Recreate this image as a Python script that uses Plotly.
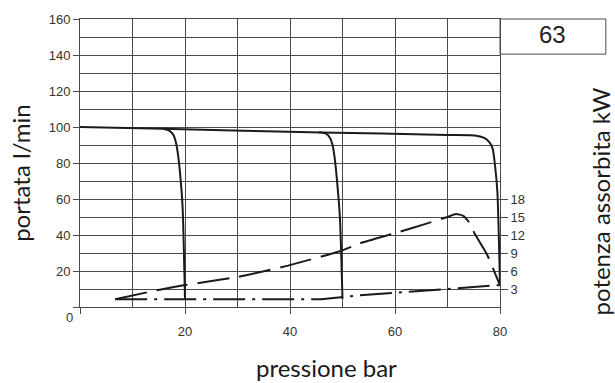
import plotly.graph_objects as go

# Flow rate (l/min) vs pressure (bar): main curve with relief knee at 80 bar
flow_p = [0, 15.8, 46, 70, 75.5, 77.0, 78.0, 78.6, 79.0, 79.5, 80.0]
flow_q = [100, 99.0, 97.0, 95.6, 95.2, 94.0, 91.5, 88.0, 80.0, 64.0, 12.0]

# Relief knee branching off at 20 bar
knee20_p = [15.8, 17.0, 17.8, 18.3, 18.7, 19.1, 19.55, 20.0]
knee20_q = [99.0, 98.0, 95.5, 91.0, 84.0, 73.0, 55.0, 4.4]

# Relief knee branching off at 50 bar
knee50_p = [45.5, 46.8, 47.6, 48.1, 48.5, 48.9, 49.5, 50.0]
knee50_q = [97.1, 96.4, 94.0, 90.0, 83.0, 72.0, 50.0, 4.4]

# Absorbed power (kW), dashed curve
power_p = [6.7, 14.7, 20.0, 30.0, 39.6, 49.5, 53.3, 60.0, 66.0, 70.0, 71.6, 73.0, 74.2, 75.2, 77.5, 80.0]
power_kw = [1.3, 2.8, 3.65, 5.0, 6.9, 9.3, 10.6, 12.3, 13.9, 15.0, 15.5, 15.2, 14.0, 12.2, 8.8, 3.6]

# Absorbed power (kW), dash-dot curve
idle_p = [6.7, 46.0, 54.0, 80.0]
idle_kw = [1.3, 1.3, 2.0, 3.65]

x_ticks = [0, 20, 40, 60, 80]
x_labels = ["", "20", "40", "60", "80"]
y_ticks = [0, 20, 40, 60, 80, 100, 120, 140, 160]
y_labels = ["", "20", "40", "60", "80", "100", "120", "140", "160"]
kw_ticks = [3, 6, 9, 12, 15, 18]

pump_size = "63"

line_col = "#1a1a1a"
grid_col = "#4a4a4a"
tick_font = dict(family="Liberation Sans, Arial, sans-serif", size=13, color="#333333")
title_font = dict(family="Lato, Noto Sans, sans-serif", size=24, color="#1a1a1a")

fig = go.Figure()

fig.add_trace(go.Scatter(x=flow_p, y=flow_q, mode="lines",
                         line=dict(color=line_col, width=2, shape="spline", smoothing=0.6)))
fig.add_trace(go.Scatter(x=knee20_p, y=knee20_q, mode="lines",
                         line=dict(color=line_col, width=2, shape="spline", smoothing=0.6)))
fig.add_trace(go.Scatter(x=knee50_p, y=knee50_q, mode="lines",
                         line=dict(color=line_col, width=2, shape="spline", smoothing=0.6)))
fig.add_trace(go.Scatter(x=power_p, y=power_kw, mode="lines", yaxis="y2",
                         line=dict(color=line_col, width=2, dash="32px,10px",
                                   shape="spline", smoothing=0.5)))
fig.add_trace(go.Scatter(x=idle_p, y=idle_kw, mode="lines", yaxis="y2",
                         line=dict(color=line_col, width=2, dash="32px,7px,3px,7px")))

fig.update_layout(
    width=615, height=383,
    margin=dict(l=80, r=115, t=15, b=76),
    paper_bgcolor="white", plot_bgcolor="white",
    showlegend=False,
    xaxis=dict(range=[0, 80], tickvals=x_ticks, ticktext=x_labels,
               ticks="outside", ticklen=6, tickcolor=grid_col, tickfont=tick_font,
               ticklabelstandoff=6,
               showgrid=True, gridcolor=grid_col, gridwidth=1,
               minor=dict(dtick=10, tick0=0, showgrid=True, gridcolor=grid_col, gridwidth=1),
               showline=True, linecolor=grid_col, linewidth=1, mirror=True,
               zeroline=False, fixedrange=True),
    yaxis=dict(range=[0, 160], tickvals=y_ticks, ticktext=y_labels,
               ticks="outside", ticklen=6, tickcolor=grid_col, tickfont=tick_font,
               showgrid=True, gridcolor=grid_col, gridwidth=1,
               minor=dict(dtick=10, tick0=0, showgrid=True, gridcolor=grid_col, gridwidth=1),
               showline=True, linecolor=grid_col, linewidth=1, mirror=True,
               zeroline=False, fixedrange=True),
    yaxis2=dict(range=[0, 48], overlaying="y", side="right", tickvals=kw_ticks,
                ticks="outside", ticklen=7, tickcolor=grid_col, tickfont=tick_font,
                showgrid=False, zeroline=False, showline=False, fixedrange=True),
)

# Pump size box above the power scale
fig.add_shape(type="rect", xref="paper", yref="paper",
              x0=1.0, x1=1.252, y0=0.878, y1=1.0,
              line=dict(color=grid_col, width=1), fillcolor="rgba(0,0,0,0)")
fig.add_annotation(text=pump_size, xref="paper", yref="paper", x=1.126, y=0.945,
                   xanchor="center", yanchor="middle", showarrow=False,
                   font=dict(family="Liberation Sans, Arial, sans-serif", size=24, color="#222222"))

# Shared origin label
fig.add_annotation(text="0", xref="paper", yref="paper", x=-0.024, y=-0.038,
                   xanchor="center", yanchor="middle", showarrow=False, font=tick_font)

# Axis titles
fig.add_annotation(text="portata l/min", xref="paper", yref="paper",
                   x=(21 - 80) / 420, y=(307 - 171) / 292,
                   xanchor="center", yanchor="middle", textangle=-90, showarrow=False,
                   font=title_font)
fig.add_annotation(text="potenza assorbita kW", xref="paper", yref="paper",
                   x=(600 - 80) / 420, y=(307 - 200) / 292,
                   xanchor="center", yanchor="middle", textangle=-90, showarrow=False,
                   font=title_font)
fig.add_annotation(text="pressione bar", xref="paper", yref="paper",
                   x=(326 - 80) / 420, y=(307 - 368) / 292,
                   xanchor="center", yanchor="middle", showarrow=False,
                   font=title_font)

fig.write_html("out.html")
